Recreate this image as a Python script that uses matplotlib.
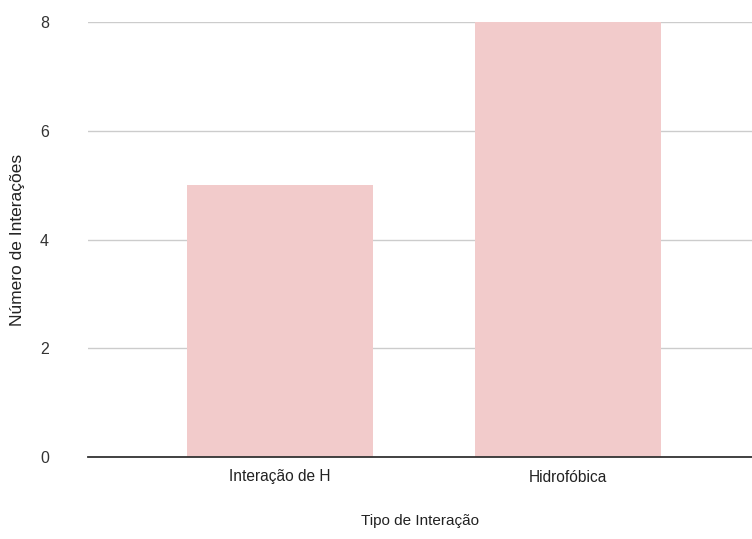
import matplotlib
matplotlib.use("Agg")
import matplotlib.pyplot as plt

categories = ["Interação de H", "Hidrofóbica"]
values = [5, 8]
yticks = [0, 2, 4, 6, 8]

plt.rcParams['font.family'] = ['Liberation Sans', 'DejaVu Sans']

fig = plt.figure(figsize=(7.52, 5.39), dpi=100)
ax = fig.add_axes([88/752, (539-457)/539, 1 - 88/752, (457-22)/539])

x = list(range(len(categories)))
ax.bar(x, values, width=0.646, color="#f2cbcb", zorder=2)
ax.set_xlim(-0.667, 1.64)
ax.set_ylim(0, 8)
ax.set_yticks(yticks)
ax.set_yticklabels([str(v) for v in yticks], fontsize=11.5, color="#333333")
ax.set_xticks(x)
ax.set_xticklabels(categories, fontsize=11.2, color="#222222")
ax.tick_params(axis='both', length=0)
ax.tick_params(axis='y', pad=28)
ax.tick_params(axis='x', pad=9)
ax.yaxis.grid(True, color="#cccccc", linewidth=1, zorder=0)
ax.set_axisbelow(True)
for s in ["top", "right", "left"]:
    ax.spines[s].set_visible(False)
ax.spines["bottom"].set_color("#333333")
ax.spines["bottom"].set_linewidth(1.3)
ax.spines["bottom"].set_zorder(3)

fig.text(18/752, 1 - 240/539, "Número de Interações", rotation=90, ha="center", va="center",
         fontsize=12.5, color="#222222")
fig.text(420/752, 1 - 521/539, "Tipo de Interação", ha="center", va="center",
         fontsize=11, color="#222222")

fig.savefig("out.png", dpi=100)
